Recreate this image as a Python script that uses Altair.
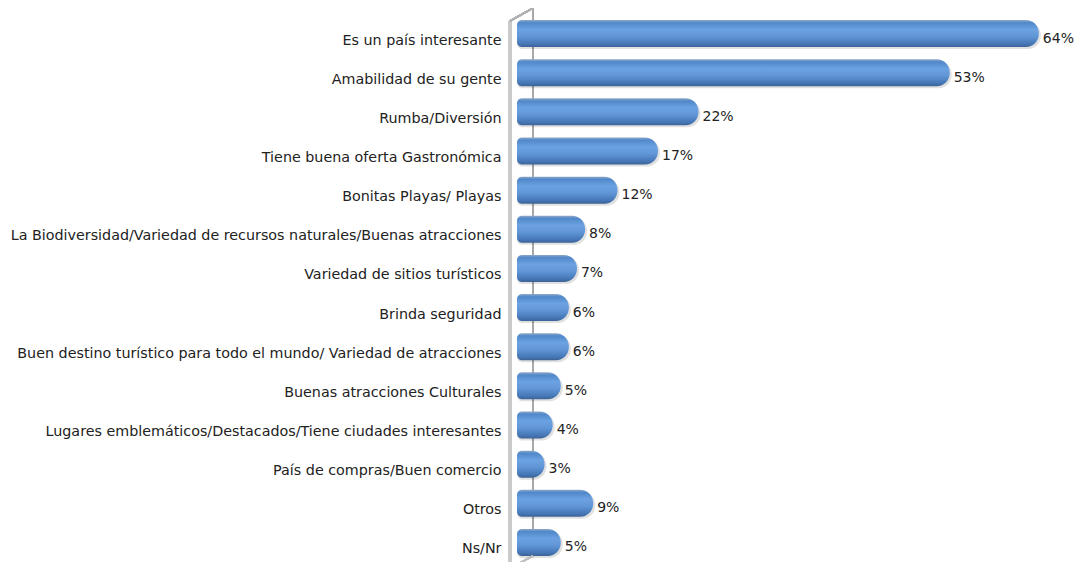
import altair as alt
import pandas as pd

categories = [
    "Es un país interesante",
    "Amabilidad de su gente",
    "Rumba/Diversión",
    "Tiene buena oferta Gastronómica",
    "Bonitas Playas/ Playas",
    "La Biodiversidad/Variedad de recursos naturales/Buenas atracciones",
    "Variedad de sitios turísticos",
    "Brinda seguridad",
    "Buen destino turístico para todo el mundo/ Variedad de atracciones",
    "Buenas atracciones Culturales",
    "Lugares emblemáticos/Destacados/Tiene ciudades interesantes",
    "País de compras/Buen comercio",
    "Otros",
    "Ns/Nr",
]
values = [64, 53, 22, 17, 12, 8, 7, 6, 6, 5, 4, 3, 9, 5]
value_labels = [f"{v}%" for v in values]

df = pd.DataFrame({"cat": categories, "val": values, "lab": value_labels})

FONT = "DejaVu Sans"
FS = 14.3
H = 548
W = 534

x_scale = alt.Scale(domain=[-0.4, 65.5], nice=False, zero=False)
y_enc = alt.Y(
    "cat:N",
    sort=categories,
    title=None,
    scale=alt.Scale(paddingInner=0.3, paddingOuter=0.15),
    axis=alt.Axis(
        ticks=False,
        domain=False,
        grid=False,
        labelPadding=16,
        labelFont=FONT,
        labelFontSize=FS,
        labelColor="#222222",
        labelLimit=700,
        labelOffset=7,
    ),
)
x_enc = alt.X("val:Q", scale=x_scale, axis=None, title=None)

# 3D wall (decorative)
back_line = alt.Chart(df).mark_rule(color="#a8a8a8", strokeWidth=1.5).encode(
    x=alt.value(16), y=alt.value(-6), y2=alt.value(H - 6)
)
front_line = alt.Chart(df).mark_rule(color="#cacaca", strokeWidth=3).encode(
    x=alt.value(-7), y=alt.value(7), y2=alt.value(H + 6)
)
top_diag = alt.Chart(df).mark_rule(color="#b0b0b0", strokeWidth=1.5).encode(
    x=alt.value(-7), x2=alt.value(16), y=alt.value(7), y2=alt.value(-6)
)
bot_diag = alt.Chart(df).mark_rule(color="#c0c0c0", strokeWidth=1.5).encode(
    x=alt.value(-7), x2=alt.value(16), y=alt.value(H + 6), y2=alt.value(H - 6)
)

grad = alt.Gradient(
    gradient="linear",
    stops=[
        alt.GradientStop(color="#8fa9c8", offset=0),
        alt.GradientStop(color="#5088c9", offset=0.1),
        alt.GradientStop(color="#6ca2e2", offset=0.35),
        alt.GradientStop(color="#6197d7", offset=0.6),
        alt.GradientStop(color="#4677b6", offset=0.88),
        alt.GradientStop(color="#3c6296", offset=1),
    ],
    x1=0, x2=0, y1=0, y2=1,
)

shadow = alt.Chart(df).mark_bar(
    color="#000000", opacity=0.12, size=27, xOffset=2, yOffset=2,
    cornerRadiusTopLeft=5, cornerRadiusBottomLeft=5,
    cornerRadiusTopRight=13, cornerRadiusBottomRight=13,
).encode(x=x_enc, x2=alt.datum(-0.4), y=y_enc)

bars = alt.Chart(df).mark_bar(
    color=grad, size=27,
    cornerRadiusTopLeft=5, cornerRadiusBottomLeft=5,
    cornerRadiusTopRight=13, cornerRadiusBottomRight=13,
).encode(x=x_enc, x2=alt.datum(-0.4), y=y_enc)

texts = alt.Chart(df).mark_text(
    align="left", baseline="middle", dx=4, dy=5,
    font=FONT, fontSize=14, color="#222222",
).encode(x=x_enc, y=y_enc, text="lab:N")

chart = (
    alt.layer(back_line, shadow, bars, texts, front_line, top_diag, bot_diag)
    .properties(
        width=W,
        height=H,
        background="white",
        autosize=alt.AutoSizeParams(type="none"),
        padding={"left": 509, "top": 6, "right": 26, "bottom": 0},
    )
    .configure_view(strokeWidth=0, stroke="transparent")
)

chart.save("out.html", embed_options={"renderer": "svg", "actions": False})
